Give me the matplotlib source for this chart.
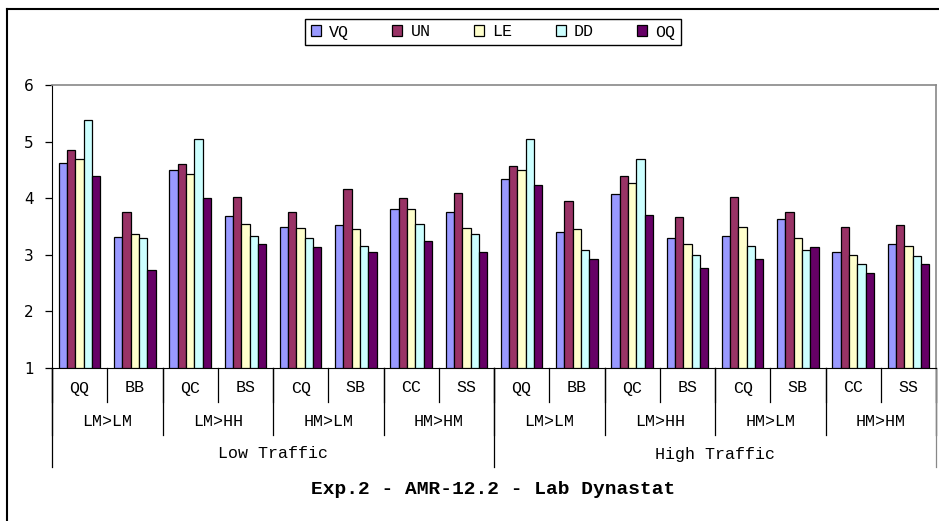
import matplotlib
matplotlib.use("Agg")
from matplotlib import pyplot as plt
from matplotlib.lines import Line2D
from matplotlib.transforms import blended_transform_factory
import numpy as np

# data
series = ["VQ", "UN", "LE", "DD", "OQ"]
colors = ["#9999FF", "#993366", "#FFFFCC", "#CCFFFF", "#660066"]
conditions = ["QQ", "BB", "QC", "BS", "CQ", "SB", "CC", "SS"] * 2
groups = ["LM>LM", "LM>HH", "HM>LM", "HM>HM"] * 2
traffic = ["Low Traffic", "High Traffic"]

vq = [4.63, 3.32, 4.50, 3.69, 3.50, 3.53, 3.81, 3.76,
      4.34, 3.40, 4.07, 3.29, 3.34, 3.63, 3.05, 3.19]
un = [4.86, 3.76, 4.60, 4.02, 3.76, 4.16, 4.00, 4.10,
      4.57, 3.95, 4.39, 3.66, 4.03, 3.76, 3.50, 3.53]
le = [4.70, 3.37, 4.42, 3.55, 3.48, 3.45, 3.81, 3.48,
      4.50, 3.45, 4.26, 3.19, 3.50, 3.29, 3.00, 3.16]
dd = [5.38, 3.29, 5.05, 3.34, 3.29, 3.16, 3.55, 3.37,
      5.04, 3.08, 4.70, 3.00, 3.16, 3.08, 2.84, 2.98]
oq = [4.39, 2.74, 4.00, 3.19, 3.14, 3.05, 3.24, 3.05,
      4.23, 2.93, 3.71, 2.77, 2.93, 3.14, 2.67, 2.83]
values = [vq, un, le, dd, oq]

W, H = 939, 521
mono = "Liberation Mono"

fig = plt.figure(figsize=(W / 100, H / 100), dpi=100)
ax = fig.add_axes([52 / W, 1 - 368 / H, 884 / W, 283 / H])

x = np.arange(len(conditions))
bw = 0.15
bars = []
for i, (name, vals, c) in enumerate(zip(series, values, colors)):
    b = ax.bar(x + (i - 2) * bw, np.array(vals) - 1, bw, bottom=1, color=c,
               edgecolor="black", linewidth=0.9, label=name, zorder=3)
    bars.append(b)

ax.set_xlim(-0.5, len(conditions) - 0.5)
ax.set_ylim(1, 6)
ax.set_yticks(range(1, 7))
ax.tick_params(axis="y", direction="out", length=5, width=0.9, pad=8, labelsize=11)
ax.set_xticks([])
ax.spines["left"].set_color("black")
ax.spines["bottom"].set_color("black")
ax.spines["top"].set_color("#888888")
ax.spines["right"].set_color("#888888")
for s in ["top", "right"]:
    ax.spines[s].set_linewidth(1.2)

# multi-level category axis
tr = blended_transform_factory(ax.transData, fig.transFigure)
def fy(py):
    return 1 - py / H

def sep(xpos, py_end, color="black"):
    ax.add_line(Line2D([xpos, xpos], [fy(368), fy(py_end)], transform=tr,
                       color=color, lw=0.9, clip_on=False))

for k in range(len(conditions) + 1):
    sep(k - 0.5, 402)
for k in range(0, len(conditions) + 1, 2):
    sep(k - 0.5, 435)
for k in range(0, len(conditions) + 1, 8):
    sep(k - 0.5, 467, "black" if k < len(conditions) else "#888888")

for k, lab in enumerate(conditions):
    ax.text(k, fy(388), lab, transform=tr, ha="center", va="center",
            family=mono, fontsize=12)
for k, lab in enumerate(groups):
    ax.text(2 * k + 0.5, fy(421), lab, transform=tr, ha="center", va="center",
            family=mono, fontsize=12)
for k, lab in enumerate(traffic):
    ax.text(8 * k + 3.5, fy(454), lab, transform=tr, ha="center", va="center",
            family=mono, fontsize=12)

fig.text(493 / W, fy(489), "Exp.2 - AMR-12.2 - Lab Dynastat", ha="center",
         va="center", family=mono, fontsize=14, fontweight="bold")

# legend
leg = fig.legend(handles=bars, loc="center", bbox_to_anchor=(493 / W, fy(32)),
                 ncol=5, fancybox=False, edgecolor="black", framealpha=1,
                 prop={"family": mono, "size": 12}, handlelength=0.6,
                 handleheight=0.6, handletextpad=0.5, columnspacing=2.6,
                 borderpad=0.35, borderaxespad=0)
leg.get_frame().set_linewidth(1.0)

# outer chart frame
fig.add_artist(Line2D([7 / W, 7 / W], [0, fy(9)], color="black", lw=1.5))
fig.add_artist(Line2D([7 / W, 1], [fy(9), fy(9)], color="black", lw=1.5))

fig.savefig("out.png", dpi=100)
